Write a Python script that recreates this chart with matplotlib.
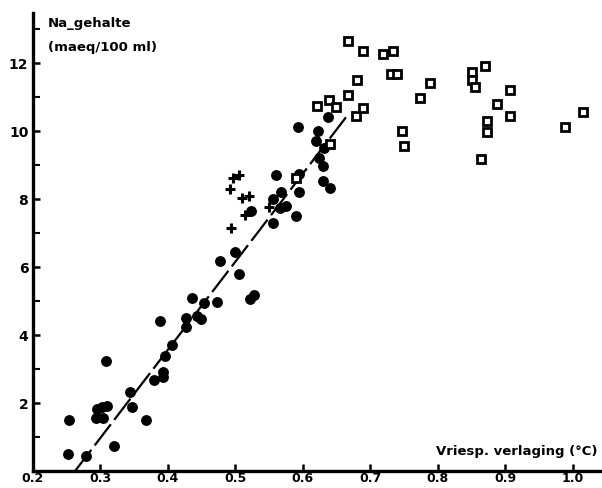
import matplotlib
matplotlib.use("Agg")
import matplotlib.pyplot as plt

# Freezing-point depression (°C) vs sodium content (maeq/100 ml)
dots_x = [0.252, 0.2545, 0.279, 0.309, 0.295, 0.3025, 0.311, 0.294, 0.305,
          0.320, 0.3444, 0.347, 0.3686, 0.3795, 0.393, 0.394, 0.397, 0.407,
          0.389, 0.427, 0.428, 0.443, 0.4496, 0.436, 0.454, 0.474, 0.478,
          0.506, 0.500, 0.522, 0.528, 0.523, 0.556, 0.591, 0.566, 0.575,
          0.557, 0.568, 0.595, 0.561, 0.595, 0.630, 0.641, 0.630, 0.624,
          0.632, 0.620, 0.6225, 0.594, 0.637]
dots_y = [0.49, 1.50, 0.45, 3.24, 1.81, 1.89, 1.91, 1.55, 1.55,
          0.75, 2.31, 1.89, 1.50, 2.68, 2.92, 2.77, 3.39, 3.71,
          4.42, 4.23, 4.49, 4.56, 4.48, 5.08, 4.95, 4.97, 6.18,
          5.78, 6.45, 5.06, 5.17, 7.64, 7.28, 7.51, 7.73, 7.80,
          8.00, 8.20, 8.21, 8.70, 8.73, 8.54, 8.31, 8.97, 9.22,
          9.49, 9.71, 10.01, 10.11, 10.42]

plus_x = [0.4936, 0.4926, 0.4966, 0.506, 0.510, 0.520, 0.515, 0.550]
plus_y = [7.14, 8.29, 8.61, 8.72, 8.02, 8.09, 7.54, 7.76]

sq_x = [0.590, 0.640, 0.622, 0.639, 0.650, 0.668, 0.679, 0.689,
        0.668, 0.689, 0.719, 0.734, 0.7316, 0.7395, 0.681,
        0.789, 0.774, 0.748, 0.751, 0.871, 0.851, 0.851, 0.8556,
        0.907, 0.8886, 0.908, 0.874, 0.874, 0.864, 1.015, 0.989]
sq_y = [8.61, 9.62, 10.74, 10.91, 10.70, 11.06, 10.44, 10.69,
        12.65, 12.35, 12.26, 12.36, 11.68, 11.68, 11.50,
        11.42, 10.96, 10.00, 9.56, 11.91, 11.74, 11.50, 11.28,
        11.21, 10.79, 10.45, 10.29, 9.98, 9.17, 10.57, 10.13]

fit_x = [0.263, 0.665]
fit_y = [0.0, 10.42]

x_ticks = [0.2, 0.3, 0.4, 0.5, 0.6, 0.7, 0.8, 0.9, 1.0]
x_labels = ["0.2", "0.3", "0.4", "0.5", "0.6", "0.7", "0.8", "0.9", "1.0"]
y_ticks = [2, 4, 6, 8, 10, 12]
y_labels = ["2", "4", "6", "8", "10", "12"]

fig = plt.figure(figsize=(6.02, 4.88), dpi=100)
ax = fig.add_axes([0.054, 0.0348, 0.9427, 0.9385])
ax.set_xlim(0.2, 1.0407)
ax.set_ylim(0, 13.47)

for side in ("top", "right"):
    ax.spines[side].set_visible(False)
for side in ("left", "bottom"):
    ax.spines[side].set_linewidth(2.4)

ax.plot(fit_x, fit_y, color="black", lw=1.6, dashes=(12, 2.5), zorder=2)
ax.plot(dots_x, dots_y, "o", color="black", ms=6.8, zorder=3)
ax.plot(plus_x, plus_y, "+", color="black", ms=7, mew=2.2, zorder=3)
ax.plot(sq_x, sq_y, "s", mfc="white", mec="black", ms=5.2, mew=2.0, zorder=3)

ax.set_xticks(x_ticks)
ax.set_xticklabels(x_labels, fontweight="bold", fontsize=9)
ax.set_yticks(y_ticks)
ax.set_yticklabels(y_labels, fontweight="bold", fontsize=10)
ax.set_yticks(range(1, 14), minor=True)
ax.tick_params(axis="both", direction="in", length=5, width=1.8, pad=3)
ax.tick_params(axis="y", which="minor", direction="in", length=5, width=1.5)
ax.tick_params(axis="x", pad=1)

ax.text(0.027, 0.978, "Na_gehalte", transform=ax.transAxes,
        fontsize=9.5, fontweight="bold", ha="left", va="center")
ax.text(0.027, 0.924, "(maeq/100 ml)", transform=ax.transAxes,
        fontsize=9.5, fontweight="bold", ha="left", va="center")
ax.text(0.995, 0.042, "Vriesp. verlaging (°C)", transform=ax.transAxes,
        fontsize=9.5, fontweight="bold", ha="right", va="center")

fig.savefig("out.png", dpi=100, facecolor="white")
